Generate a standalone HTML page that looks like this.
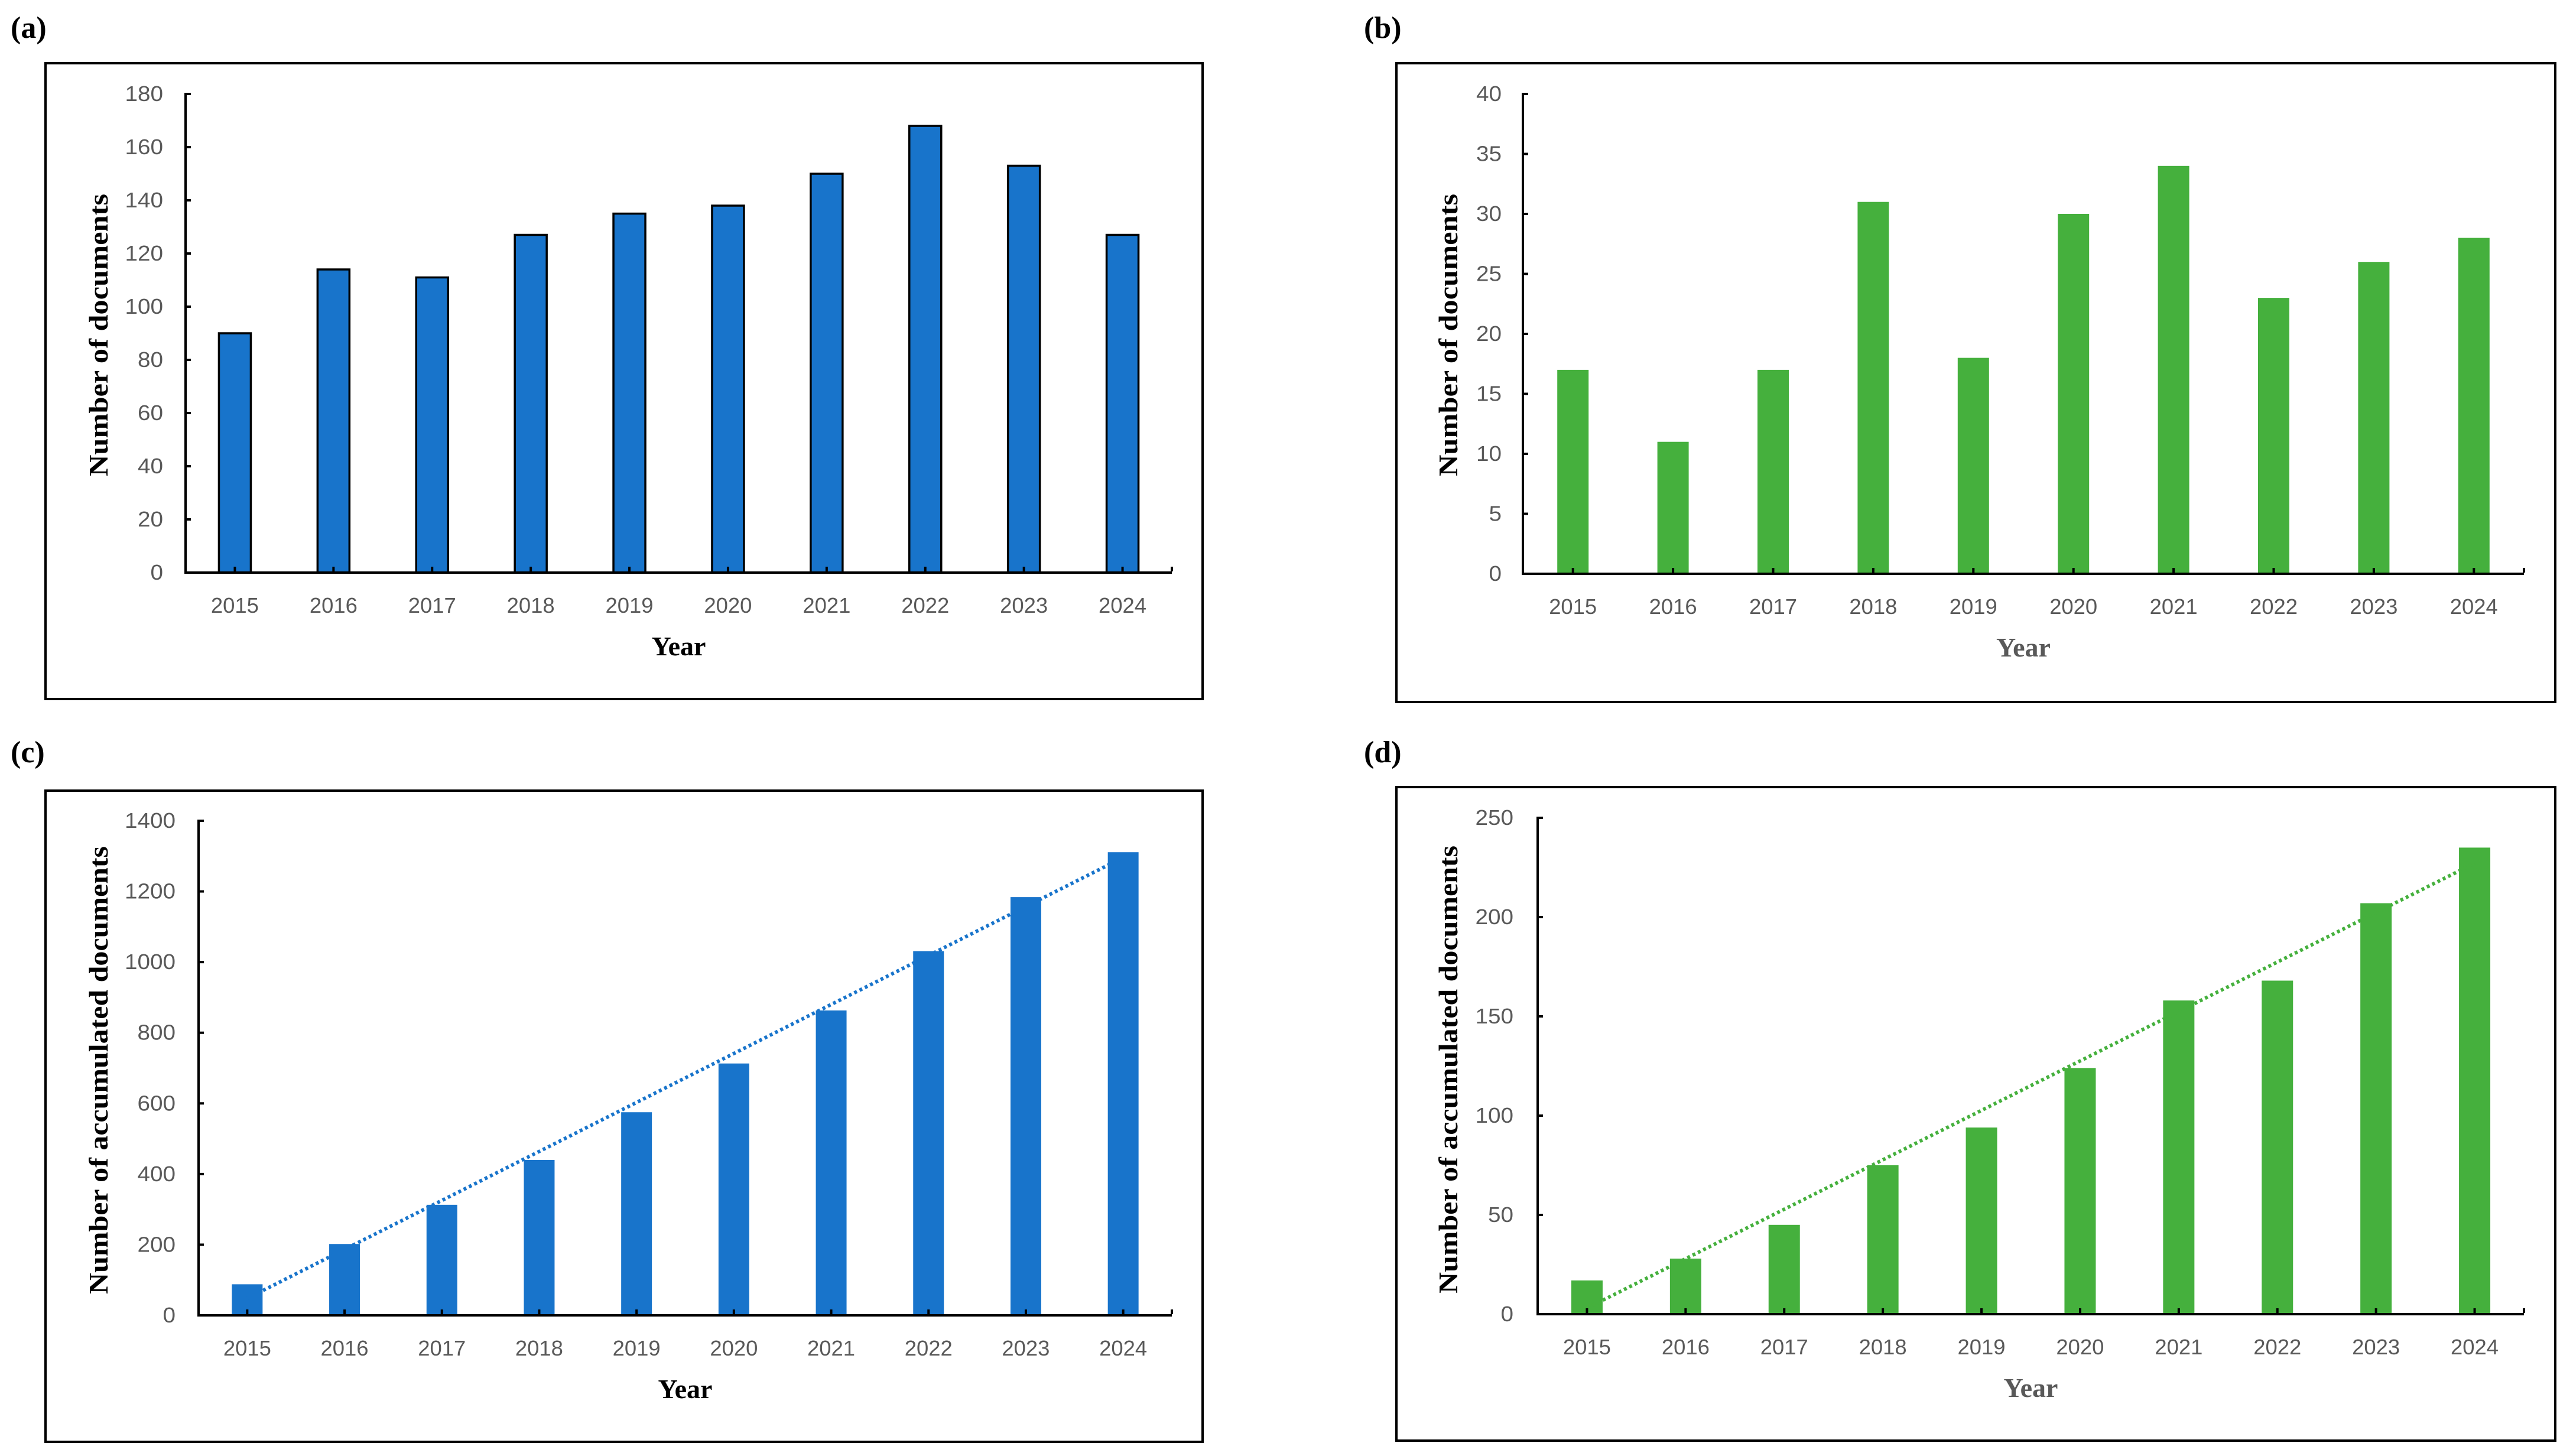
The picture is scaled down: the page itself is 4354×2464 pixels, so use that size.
<!DOCTYPE html>
<html><head><meta charset="utf-8">
<style>
html,body{margin:0;padding:0;background:#fff;}
svg{display:block;}
</style></head>
<body>
<svg id="fig" width="4354" height="2464" viewBox="0 0 4354 2464" xmlns="http://www.w3.org/2000/svg">
<rect x="0" y="0" width="4354" height="2464" fill="#fff"/>
</svg>
<script>
const years = ['2015','2016','2017','2018','2019','2020','2021','2022','2023','2024'];
const valuesA = [90,114,111,127,135,138,150,168,153,127];
const valuesB = [17,11,17,31,18,30,34,23,26,28];
const valuesC = [88,202,313,440,575,713,863,1031,1184,1311];
const valuesD = [17,28,45,75,94,124,158,168,207,235];
const ticksA = [0,20,40,60,80,100,120,140,160,180];
const ticksB = [0,5,10,15,20,25,30,35,40];
const ticksC = [0,200,400,600,800,1000,1200,1400];
const ticksD = [0,50,100,150,200,250];

const NS='http://www.w3.org/2000/svg';
const svg=document.getElementById('fig');
function mk(tag,attrs,parent,text){
  const e=document.createElementNS(NS,tag);
  for(const k in attrs) e.setAttribute(k,attrs[k]);
  if(text!==undefined) e.textContent=text;
  (parent||svg).appendChild(e);
  return e;
}
function panel(cfg){
  const g=mk('g',{});
  
  
  const lab=mk('text',{x:cfg.labX,y:cfg.labY,'font-family':'Liberation Serif, serif','font-weight':'bold','font-size':52,fill:'#000'},g,'('+cfg.id+')');
  
  
  const fr=mk('rect',{x:cfg.fx,y:cfg.fy,width:cfg.fw,height:cfg.fh,fill:'none',stroke:'#000','stroke-width':4},g);
  
  
  const x0=cfg.ax, x1=cfg.axEnd, y0=cfg.zero, yT=cfg.top;
  const maxV=cfg.ticks[cfg.ticks.length-1];
  const ys=v=>y0-(v/maxV)*(y0-yT);
  const cw=(x1-x0)/cfg.cats.length;
  const xc=i=>x0+cw*(i+0.5);
  cfg.vals.forEach((v,i)=>{
    const r=mk('rect',{x:xc(i)-cfg.bw/2,y:ys(v),width:cfg.bw,height:y0-ys(v),fill:cfg.color},g);
    if(cfg.outline){r.setAttribute('stroke','#000');r.setAttribute('stroke-width',3.5);}
    
    
  });
  if(cfg.trend){
    const n=cfg.vals.length; let mx=(n-1)/2, my=cfg.vals.reduce((a,b)=>a+b,0)/n, sxy=0,sxx=0;
    cfg.vals.forEach((v,i)=>{sxy+=(i-mx)*(v-my);sxx+=(i-mx)*(i-mx);});
    const s=sxy/sxx, b=my-s*mx;
    const l=mk('line',{x1:xc(0),y1:ys(b),x2:xc(n-1),y2:ys(b+s*(n-1)),stroke:cfg.color,'stroke-width':6,'stroke-dasharray':'5 5'},g);
    
    
  }
  const ya=mk('line',{x1:x0,y1:yT-2,x2:x0,y2:y0+2,stroke:'#000','stroke-width':4},g);
  
  
  const xa=mk('line',{x1:x0-2,y1:y0,x2:x1,y2:y0,stroke:'#000','stroke-width':4},g);
  
  
  mk('line',{x1:x1,y1:y0-2,x2:x1,y2:y0-10,stroke:'#000','stroke-width':4},g);
  cfg.ticks.forEach(t=>{
    mk('line',{x1:x0,y1:ys(t),x2:x0+9,y2:ys(t),stroke:'#000','stroke-width':4},g);
    const s=String(t);
    const tl=mk('text',{x:cfg.ylabEnd,y:ys(t)+12,'text-anchor':'end','font-family':'Liberation Sans, sans-serif','font-size':36,fill:'#595959',textLength:s.length*21.5,lengthAdjust:'spacingAndGlyphs'},g,s);
    
    
  });
  cfg.cats.forEach((c,i)=>{
    mk('line',{x1:xc(i),y1:y0,x2:xc(i),y2:y0-10,stroke:'#000','stroke-width':4},g);
    const tl=mk('text',{x:xc(i),y:y0+68,'text-anchor':'middle','font-family':'Liberation Sans, sans-serif','font-size':36,fill:'#595959',textLength:81,lengthAdjust:'spacingAndGlyphs'},g,c);
    
    
  });
  const xt=mk('text',{x:(x0+x1)/2,y:y0+140,'text-anchor':'middle','font-family':'Liberation Serif, serif','font-weight':'bold','font-size':46,fill:cfg.xtColor},g,'Year');
  
  
  const yt=mk('text',{x:0,y:0,'text-anchor':'middle','font-family':'Liberation Serif, serif','font-weight':'bold','font-size':46,fill:'#000',transform:'translate('+cfg.ytX+','+cfg.ytY+') rotate(-90)',textLength:cfg.ytLen,lengthAdjust:'spacingAndGlyphs'},g,cfg.ytitle);
  
  
}
panel({id:'a',labX:18,labY:64,fx:77,fy:107,fw:1958,fh:1076,ax:314,axEnd:1983,zero:969,top:159,ticks:ticksA,vals:valuesA,cats:years,bw:54,color:'#1874CB',outline:true,ylabEnd:276,xtColor:'#000',ytX:182,ytY:567,ytitle:'Number of documents',ytLen:478});
panel({id:'b',labX:2308,labY:64,fx:2363,fy:107,fw:1961,fh:1081,ax:2577,axEnd:4271,zero:971,top:159,ticks:ticksB,vals:valuesB,cats:years,bw:53,color:'#45B03D',outline:false,ylabEnd:2541,xtColor:'#595959',ytX:2466,ytY:567,ytitle:'Number of documents',ytLen:478});
panel({id:'c',labX:18,labY:1290,fx:77,fy:1338,fw:1958,fh:1102,ax:336,axEnd:1983,zero:2226,top:1389,ticks:ticksC,vals:valuesC,cats:years,bw:52,color:'#1874CB',outline:false,trend:true,ylabEnd:297,xtColor:'#000',ytX:182,ytY:1811,ytitle:'Number of accumulated documents',ytLen:758});
panel({id:'d',labX:2308,labY:1290,fx:2363,fy:1332,fw:1961,fh:1106,ax:2602,axEnd:4271,zero:2224,top:1384,ticks:ticksD,vals:valuesD,cats:years,bw:53,color:'#45B03D',outline:false,trend:true,ylabEnd:2561,xtColor:'#595959',ytX:2466,ytY:1810,ytitle:'Number of accumulated documents',ytLen:758});
</script>
</body></html>
